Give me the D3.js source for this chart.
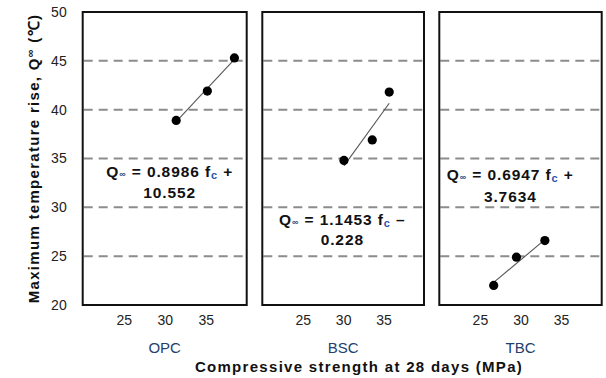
<!DOCTYPE html>
<html>
<head>
<meta charset="utf-8">
<script src="https://cdn.jsdelivr.net/npm/d3@7"></script>
<style>
  html, body { margin: 0; padding: 0; background: #fff; }
  svg { display: block; font-family: "Liberation Sans", Arial, sans-serif; }
</style>
</head>
<body>
<div id="chart"></div>
<script>
// ---- data ----
const categories = ["OPC", "BSC", "TBC"];
const strengthOPC = [31.4, 35.2, 38.5];
const riseOPC     = [38.9, 41.9, 45.3];
const strengthBSC = [30.1, 33.6, 35.7];
const riseBSC     = [34.8, 36.9, 41.8];
const strengthTBC = [26.7, 29.5, 33.0];
const riseTBC     = [22.0, 24.9, 26.6];
const slopes      = [0.8986, 1.1453, 0.6947];
const intercepts  = ["10.552", "0.228", "3.7634"];
const interceptSigns = ["+", "\u2013", "+"];
const yTicks = [20, 25, 30, 35, 40, 45, 50];
const gridValues = [25, 30, 35, 40, 45];
const xTicks = [25, 30, 35];
const yTitle = "Maximum temperature rise, Q";
const xTitle = "Compressive strength at 28 days  (MPa)";

// ---- layout ----
const W = 606, H = 378;
const plotTop = 12, plotBottom = 305;
const panelRanges = [[82.7, 246.7], [262.3, 424], [439.3, 601.7]];
const eqPos = [ // [offset of centre from panel left, baseline line1, baseline line2]
  [87, 176.5, 198],
  [80, 224.5, 245],
  [71, 180, 201.5]
];

const strengths = [strengthOPC, strengthBSC, strengthTBC];
const rises = [riseOPC, riseBSC, riseTBC];

const svg = d3.select("#chart").append("svg")
  .attr("width", W).attr("height", H);

const y = d3.scaleLinear().domain([20, 50]).range([plotBottom, plotTop]);

categories.forEach((cat, i) => {
  const x = d3.scaleLinear().domain([20, 40]).range(panelRanges[i]);
  const g = svg.append("g");

  // gridlines
  g.selectAll("line.grid").data(gridValues).enter().append("line")
    .attr("x1", x(20) + 1).attr("x2", x(40) - 1)
    .attr("y1", d => y(d)).attr("y2", d => y(d))
    .attr("stroke", "#8c8c8c").attr("stroke-width", 2)
    .attr("stroke-dasharray", "9,6");

  // x axis ticks
  const xa = g.append("g").attr("transform", `translate(0,${plotBottom})`)
    .call(d3.axisBottom(x).tickValues(xTicks).tickSize(0).tickPadding(10));
  xa.select(".domain").remove();
  xa.selectAll("text").attr("font-size", 14).attr("fill", "#222")
    .attr("font-family", "Liberation Sans, Arial, sans-serif");

  // category label
  g.append("text").attr("x", x(30)).attr("y", 353)
    .attr("text-anchor", "middle").attr("font-size", 15)
    .attr("fill", "#24406e").text(cat);

  // trend line
  const xs = strengths[i];
  const x0 = d3.min(xs), x1 = d3.max(xs);
  const icpt = (interceptSigns[i] === "+" ? 1 : -1) * (+intercepts[i]);
  const line = d3.line().x(d => x(d)).y(d => y(slopes[i] * d + icpt));
  g.append("path").datum([x0, x1]).attr("d", line)
    .attr("stroke", "#555").attr("stroke-width", 1.1).attr("fill", "none");

  // points
  g.selectAll("circle").data(xs.map((v, k) => [v, rises[i][k]])).enter()
    .append("circle")
    .attr("cx", d => x(d[0])).attr("cy", d => y(d[1])).attr("r", 4.6)
    .attr("fill", "#000");

  // frame
  g.append("rect")
    .attr("x", x(20)).attr("y", y(50))
    .attr("width", x(40) - x(20)).attr("height", y(20) - y(50))
    .attr("fill", "none").attr("stroke", "#111").attr("stroke-width", 2);

  // equation
  const cx = panelRanges[i][0] + eqPos[i][0];
  const t1 = g.append("text").attr("x", cx).attr("y", eqPos[i][1])
    .attr("text-anchor", "middle").attr("font-size", 15.5)
    .attr("letter-spacing", 0.9)
    .attr("font-weight", "bold").attr("fill", "#111");
  t1.append("tspan").text("Q");
  t1.append("tspan").attr("font-size", 9).attr("fill", "#1d3f7a").text("\u221E");
  t1.append("tspan").text(" = " + slopes[i].toFixed(4) + " f");
  t1.append("tspan").attr("font-size", 11).attr("dy", 2).attr("fill", "#2a52a8").text("c");
  t1.append("tspan").attr("dy", -2).text(" " + interceptSigns[i]);
  g.append("text").attr("x", cx).attr("y", eqPos[i][2])
    .attr("text-anchor", "middle").attr("font-size", 15.5)
    .attr("letter-spacing", 0.9)
    .attr("font-weight", "bold").attr("fill", "#111").text(intercepts[i]);
});

// y axis
const ya = svg.append("g").attr("transform", `translate(${panelRanges[0][0]},0)`)
  .call(d3.axisLeft(y).tickValues(yTicks).tickSize(0).tickPadding(16));
ya.select(".domain").remove();
ya.selectAll("text").attr("font-size", 14).attr("fill", "#222")
  .attr("font-family", "Liberation Sans, Arial, sans-serif");

// y title
const yt = svg.append("text")
  .attr("transform", `translate(39,${(plotTop + plotBottom) / 2}) rotate(-90)`)
  .attr("text-anchor", "middle").attr("font-size", 15)
  .attr("letter-spacing", 1.3)
  .attr("font-weight", "bold").attr("fill", "#111");
yt.append("tspan").text(yTitle);
yt.append("tspan").attr("font-size", 11).attr("dy", -5).text("\u221E");
yt.append("tspan").attr("dy", 5).text(" (\u2103)");

// x title
svg.append("text").attr("x", 359).attr("y", 372)
  .attr("text-anchor", "middle").attr("font-size", 15)
  .attr("letter-spacing", 1.3)
  .attr("font-weight", "bold").attr("fill", "#111").text(xTitle);
</script>
</body>
</html>
